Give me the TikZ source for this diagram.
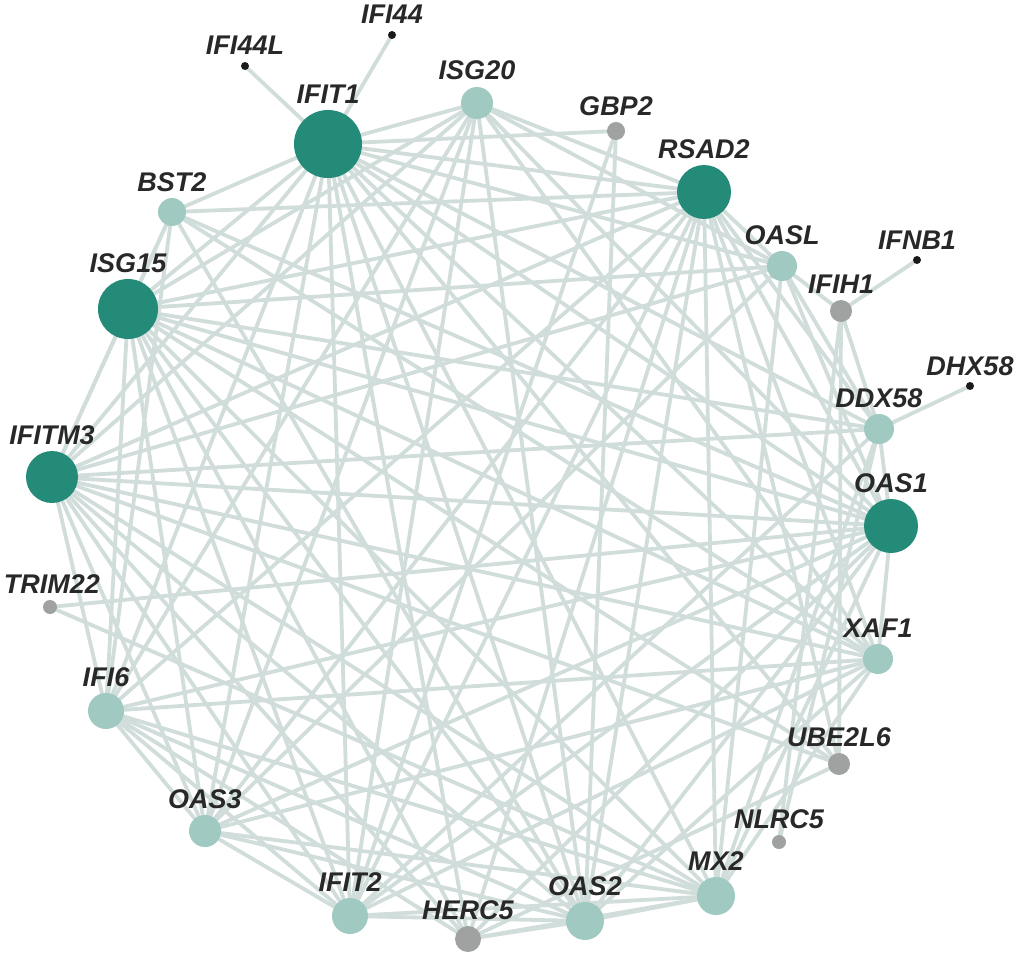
\documentclass[tikz,border=0pt]{standalone}
\usepackage{fontspec}
\setmainfont{Liberation Sans}
\usetikzlibrary{backgrounds}
\definecolor{dk}{RGB}{36,139,120}
\definecolor{lt}{RGB}{160,201,194}
\definecolor{gr}{RGB}{160,162,162}
\definecolor{bk}{RGB}{26,26,26}
\definecolor{ed}{RGB}{208,221,218}
\definecolor{txt}{RGB}{40,40,40}
\tikzset{
  gnode/.style={circle, inner sep=0pt, draw=none},
  hub/.style={gnode, fill=dk, minimum size=#1},
  mid/.style={gnode, fill=lt, minimum size=#1},
  low/.style={gnode, fill=gr, minimum size=#1},
  leaf/.style={gnode, fill=bk, minimum size=8pt},
  lbl/.style={anchor=base, inner sep=0pt, text=txt, font=\fontsize{27}{30}\selectfont\bfseries\itshape},
  edge/.style={draw=ed, line width=3.8pt}
}
\begin{document}
\begin{tikzpicture}[x=1pt, y=-1pt]
\useasboundingbox (0,0) rectangle (1020,958);
% nodes
\node[hub=68pt] (IFIT1) at (328,144) {};
\node[mid=32pt] (ISG20) at (477,103) {};
\node[low=18pt] (GBP2) at (616,131) {};
\node[hub=54pt] (RSAD2) at (704,192) {};
\node[mid=30pt] (OASL) at (782,266) {};
\node[leaf] (IFNB1) at (917,260) {};
\node[low=22pt] (IFIH1) at (841,311) {};
\node[leaf] (DHX58) at (970,386) {};
\node[mid=30pt] (DDX58) at (879,429) {};
\node[hub=54pt] (OAS1) at (891,526) {};
\node[mid=30pt] (XAF1) at (878,659) {};
\node[low=22pt] (UBE2L6) at (839,764) {};
\node[low=14pt] (NLRC5) at (779,842) {};
\node[mid=38pt] (MX2) at (716,896) {};
\node[mid=38pt] (OAS2) at (585,921) {};
\node[low=26pt] (HERC5) at (468,939) {};
\node[mid=36pt] (IFIT2) at (350,916) {};
\node[mid=32pt] (OAS3) at (205,831) {};
\node[mid=36pt] (IFI6) at (106,711) {};
\node[low=14pt] (TRIM22) at (50,607) {};
\node[hub=52pt] (IFITM3) at (52,477) {};
\node[hub=60pt] (ISG15) at (128,309) {};
\node[mid=28pt] (BST2) at (172,212) {};
\node[leaf] (IFI44L) at (245,66) {};
\node[leaf] (IFI44) at (392,35) {};
% labels
\node[lbl] (tIFIT1) at (328,103) {IFIT1};
\node[lbl] (tISG20) at (477,80) {ISG20};
\node[lbl] (tGBP2) at (616,115) {GBP2};
\node[lbl] (tRSAD2) at (704,158) {RSAD2};
\node[lbl] (tOASL) at (782,244) {OASL};
\node[lbl] (tIFNB1) at (917,249) {IFNB1};
\node[lbl] (tIFIH1) at (841,293) {IFIH1};
\node[lbl] (tDHX58) at (970,375) {DHX58};
\node[lbl] (tDDX58) at (879,407) {DDX58};
\node[lbl] (tOAS1) at (891,492) {OAS1};
\node[lbl] (tXAF1) at (878,637) {XAF1};
\node[lbl] (tUBE2L6) at (839,746) {UBE2L6};
\node[lbl] (tNLRC5) at (779,828) {NLRC5};
\node[lbl] (tMX2) at (716,870) {MX2};
\node[lbl] (tOAS2) at (585,895) {OAS2};
\node[lbl] (tHERC5) at (468,919) {HERC5};
\node[lbl] (tIFIT2) at (350,891) {IFIT2};
\node[lbl] (tOAS3) at (205,808) {OAS3};
\node[lbl] (tIFI6) at (106,686) {IFI6};
\node[lbl] (tTRIM22) at (52,593) {TRIM22};
\node[lbl] (tIFITM3) at (52,444) {IFITM3};
\node[lbl] (tISG15) at (128,272) {ISG15};
\node[lbl] (tBST2) at (172,191) {BST2};
\node[lbl] (tIFI44L) at (245,55) {IFI44L};
\node[lbl] (tIFI44) at (392,24) {IFI44};
% edges
\begin{pgfonlayer}{background}
\foreach \a/\b in {
IFIT1/IFI44, IFIT1/IFI44L, IFIT1/ISG20, IFIT1/GBP2, IFIT1/RSAD2, IFIT1/OASL, IFIT1/DDX58, IFIT1/OAS1, IFIT1/XAF1, IFIT1/UBE2L6, IFIT1/MX2, IFIT1/OAS2, IFIT1/HERC5, IFIT1/IFIT2, IFIT1/OAS3, IFIT1/IFI6, IFIT1/IFITM3, IFIT1/ISG15, IFIT1/BST2,
ISG20/ISG15, ISG20/RSAD2, ISG20/OASL, ISG20/OAS1, ISG20/XAF1, ISG20/OAS2, ISG20/IFIT2, ISG20/OAS3, ISG20/IFI6, ISG20/IFITM3,
GBP2/IFIT2, GBP2/OAS2,
RSAD2/BST2, RSAD2/ISG15, RSAD2/IFITM3, RSAD2/OASL, RSAD2/DDX58, RSAD2/OAS1, RSAD2/XAF1, RSAD2/UBE2L6, RSAD2/MX2, RSAD2/OAS2, RSAD2/HERC5, RSAD2/IFIT2, RSAD2/OAS3, RSAD2/IFI6,
OASL/ISG15, OASL/IFIH1, OASL/DDX58, OASL/OAS1, OASL/MX2, OASL/OAS3, OASL/IFITM3,
IFIH1/IFNB1, IFIH1/DDX58, IFIH1/UBE2L6, IFIH1/NLRC5,
DDX58/DHX58, DDX58/ISG15, DDX58/OAS1, DDX58/IFITM3, DDX58/MX2, DDX58/IFIT2, DDX58/NLRC5,
OAS1/TRIM22, OAS1/ISG15, OAS1/IFITM3, OAS1/BST2, OAS1/XAF1, OAS1/MX2, OAS1/OAS2, OAS1/IFIT2, OAS1/OAS3, OAS1/IFI6, OAS1/HERC5,
XAF1/ISG15, XAF1/IFI6, XAF1/OAS3, XAF1/IFITM3, XAF1/MX2, XAF1/OAS2, XAF1/IFIT2, XAF1/BST2,
UBE2L6/ISG15, UBE2L6/HERC5, UBE2L6/IFITM3,
MX2/ISG15, MX2/OAS2, MX2/HERC5, MX2/IFIT2, MX2/OAS3, MX2/IFI6, MX2/IFITM3, MX2/TRIM22,
OAS2/HERC5, OAS2/IFIT2, OAS2/OAS3, OAS2/IFI6, OAS2/IFITM3, OAS2/ISG15, OAS2/BST2,
HERC5/ISG15, HERC5/IFI6, HERC5/IFITM3,
IFIT2/IFITM3, IFIT2/ISG15, IFIT2/OAS3, IFIT2/IFI6,
OAS3/IFI6, OAS3/IFITM3, OAS3/ISG15,
IFI6/IFITM3, IFI6/ISG15, IFI6/BST2,
IFITM3/ISG15, IFITM3/BST2,
ISG15/BST2}
  \draw[edge] (\a.center) -- (\b.center);
\end{pgfonlayer}
\end{tikzpicture}
\end{document}
